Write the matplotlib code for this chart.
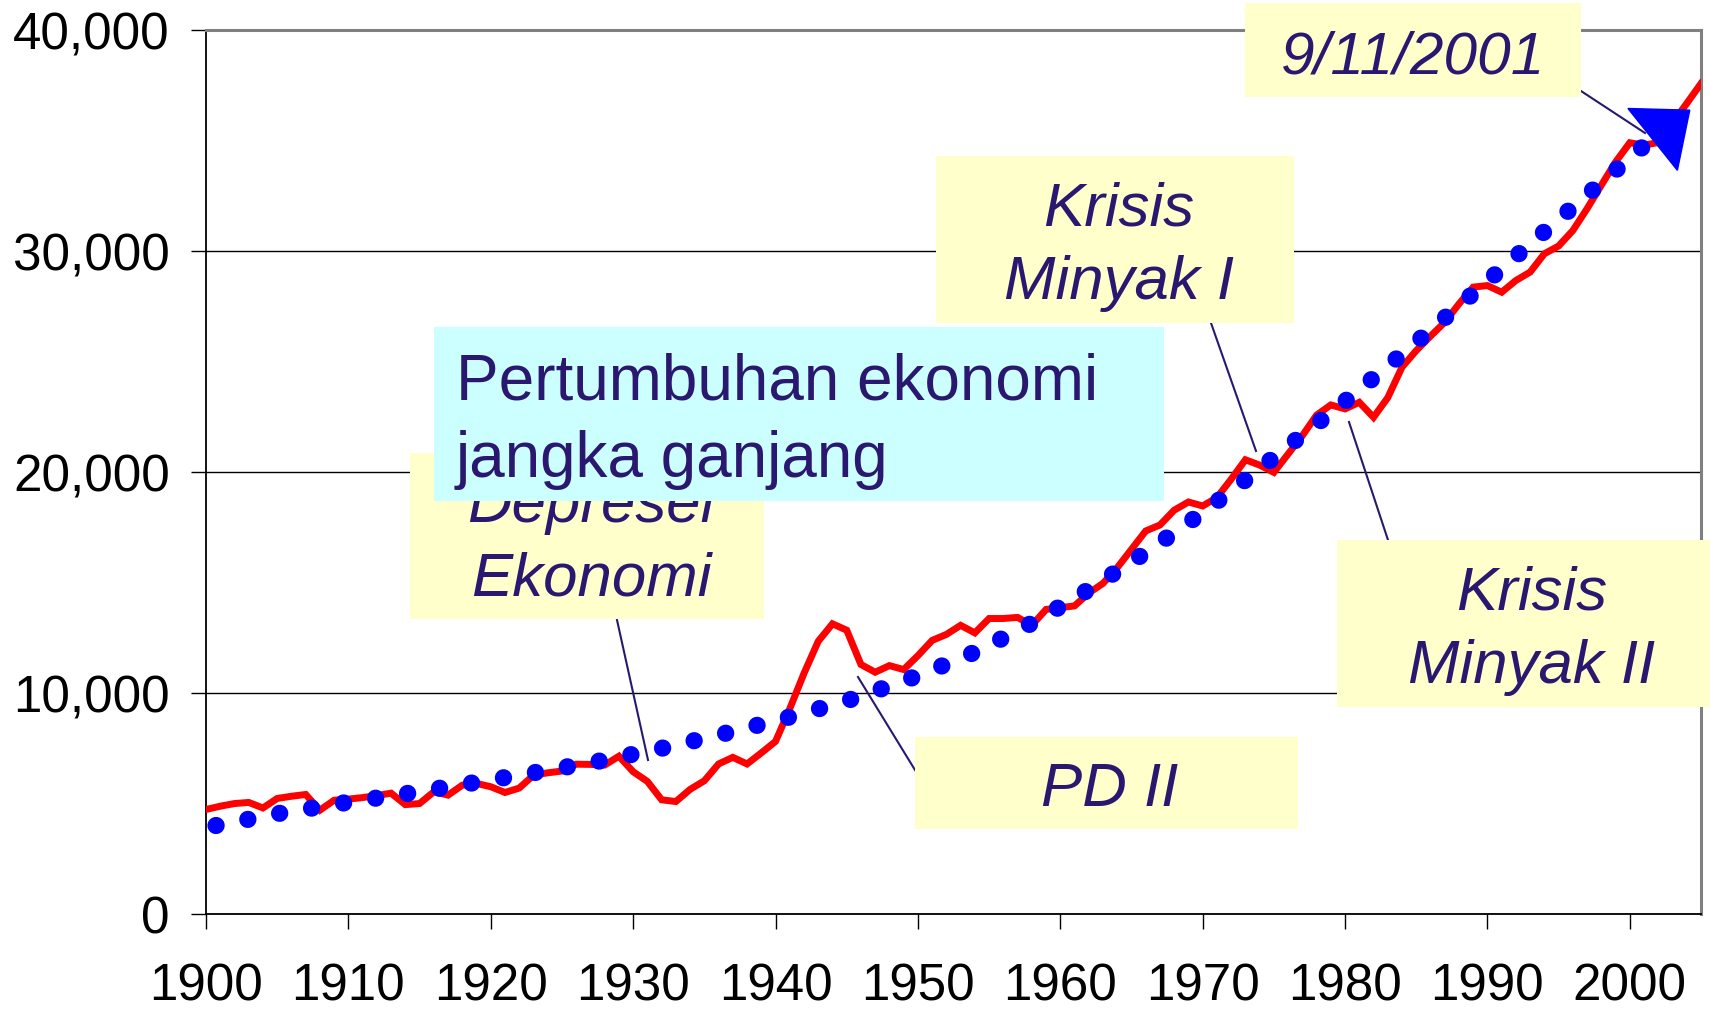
import matplotlib
matplotlib.use('Agg')
import matplotlib.pyplot as plt
from matplotlib.patches import Rectangle, Polygon
from matplotlib.lines import Line2D
from matplotlib.ticker import FuncFormatter

# GDP per capita style series (annual)
years = list(range(1900, 2006))
gdp = [4740, 4890, 5010, 5060, 4810, 5240, 5340, 5420, 4710, 5160,
       5210, 5280, 5370, 5480, 4960, 5010, 5540, 5390, 5840, 5920,
       5770, 5510, 5710, 6290, 6400, 6480, 6790, 6780, 6750, 7150,
       6450, 6010, 5180, 5100, 5650, 6040, 6800, 7100, 6800, 7300,
       7820, 9300, 10900, 12350, 13140, 12850, 11300, 10950, 11250, 11070,
       11700, 12390, 12660, 13070, 12730, 13380, 13380, 13430, 13070, 13790,
       13870, 13950, 14530, 14970, 15680, 16510, 17340, 17610, 18280, 18650,
       18470, 18850, 19680, 20560, 20320, 19990, 20820, 21650, 22580, 23040,
       22860, 23160, 22480, 23370, 24750, 25500, 26150, 26780, 27610, 28370,
       28440, 28140, 28670, 29050, 29880, 30230, 30930, 31920, 32980, 34030,
       34900, 34790, 34910, 35800, 36680, 37580]

# long term trend (dotted blue)
trend_years = [1900.7, 1905.1, 1909.6, 1914.0, 1918.5, 1922.9, 1927.4, 1931.8, 1936.1,
               1940.5, 1944.9, 1949.1, 1953.3, 1957.3, 1961.2, 1965.0, 1968.7, 1972.3,
               1975.8, 1979.4, 1982.9, 1986.3, 1989.7, 1993.1, 1996.5, 1999.9, 2001.6]
trend = [4016, 4560, 5030, 5452, 5920, 6389, 6902, 7478, 8126,
         8837, 9635, 10573, 11647, 12916, 14366, 15935, 17567, 19289,
         21074, 22886, 24745, 26585, 28475, 30378, 32268, 34153, 35091]

x_ticks = list(range(1900, 2001, 10))
y_ticks = [0, 10000, 20000, 30000, 40000]

W, H = 1710, 1009
NAVY = '#2a1870'
YELLOW = '#ffffcc'
CYAN = '#ccffff'
FONT = 'Liberation Sans'

fig = plt.figure(figsize=(W / 100, H / 100), dpi=100)
ax = fig.add_axes([206 / W, 1 - 914.3 / H, (1701 - 206) / W, (914.3 - 30) / H])

ax.plot(years, gdp, color='#ff0000', lw=5.0, solid_joinstyle='miter', zorder=3)
ax.plot(trend_years, trend, color='#0000ff', lw=12.4, linestyle=(0, (0.01, 1.87)),
        dash_capstyle='round', zorder=4)

# arrow head at the end of the trend line
ax.add_patch(Polygon([[1999.87, 36450], [2004.21, 36374], [2003.34, 33654]],
                     closed=True, color='#0000ff', clip_on=False, zorder=5))

ax.set_xlim(1900, 2005)
ax.set_ylim(0, 40000)
ax.set_xticks(x_ticks)
ax.set_yticks(y_ticks)
ax.yaxis.set_major_formatter(FuncFormatter(lambda v, p: '{:,.0f}'.format(v)))
ax.yaxis.grid(True, color='black', lw=1.0)
ax.set_axisbelow(True)
ax.tick_params(direction='out', length=11, width=1, color='black')
ax.tick_params(axis='y', pad=15)
ax.tick_params(axis='x', pad=24)
for lab in ax.get_xticklabels() + ax.get_yticklabels():
    lab.set_fontfamily(FONT)
    lab.set_fontsize(36.8)
ax.spines['left'].set_color('black')
ax.spines['bottom'].set_color('black')
ax.spines['left'].set_linewidth(1.3)
ax.spines['bottom'].set_linewidth(1.3)
ax.spines['top'].set_color('#808080')
ax.spines['right'].set_color('#808080')
ax.spines['top'].set_linewidth(2.2)
ax.spines['right'].set_linewidth(2.2)


def fx(px):
    return px / W


def fy(py):
    return 1 - py / H


def box(x0, y0, x1, y1, color, z):
    fig.patches.append(Rectangle((fx(x0), fy(y1)), fx(x1) - fx(x0), fy(y0) - fy(y1),
                                 transform=fig.transFigure, facecolor=color,
                                 edgecolor='none', zorder=z))


def connector(x0, y0, x1, y1):
    fig.lines.append(Line2D([fx(x0), fx(x1)], [fy(y0), fy(y1)], transform=fig.transFigure,
                            color=NAVY, lw=1.5, zorder=2))


def label(x, y, s, z, italic=True, size=44.5, ha='center'):
    fig.text(fx(x), fy(y), s, ha=ha, va='baseline', color=NAVY, fontsize=size,
             family=FONT, style='italic' if italic else 'normal', zorder=z)


# connector lines
connector(617, 620, 648, 760)
connector(858, 677, 915, 770)
connector(1211, 323, 1256, 451)
connector(1349, 422, 1388, 540)
connector(1581, 91, 1645, 133)

# callout boxes
box(410, 453, 764, 619, YELLOW, 2.1)
label(591, 522, 'Depresei', 2.2)
label(591, 596, 'Ekonomi', 2.2)

box(434, 327, 1164, 501, CYAN, 2.5)
label(456, 400, 'Pertumbuhan ekonomi', 2.6, italic=False, size=46, ha='left')
label(456, 477, 'jangka ganjang', 2.6, italic=False, size=46, ha='left')

box(936, 156, 1294, 323, YELLOW, 2.1)
label(1119, 225, 'Krisis', 2.2)
label(1119, 299, 'Minyak I', 2.2)

box(915, 737, 1298, 829, YELLOW, 2.1)
label(1110, 806, 'PD II', 2.2)

box(1337, 540, 1710, 707, YELLOW, 2.1)
label(1532, 609, 'Krisis', 2.2)
label(1532, 683, 'Minyak II', 2.2)

box(1245, 3, 1581, 97, YELLOW, 2.1)
label(1413, 73, '9/11/2001', 2.2, size=43.5)

fig.savefig('out.png', dpi=100)
